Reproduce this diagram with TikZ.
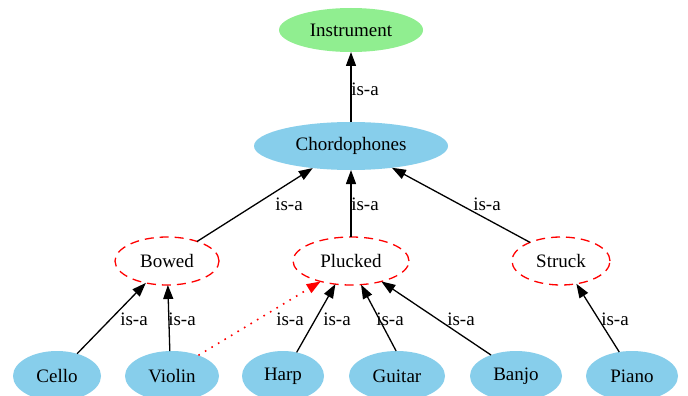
\documentclass[tikz,border=0pt]{standalone}
\usepackage{fontspec}
\setmainfont{Liberation Serif}
\usetikzlibrary{shapes.geometric,arrows.meta}
\definecolor{skyb}{HTML}{87CEEB}
\definecolor{lgreen}{HTML}{90EE90}
\begin{document}
\begin{tikzpicture}[x=1pt,y=-1pt,
  base/.style={ellipse, inner sep=0pt, outer sep=0pt, font=\fontsize{19}{22}\selectfont},
  filled/.style={base, fill=skyb},
  cls/.style={base, draw=red, dash pattern=on 9pt off 6pt, line width=1.3pt},
  isa/.style={-{Triangle[length=14pt,width=10pt]}, line width=1.3pt},
  soft/.style={-{Triangle[length=14pt,width=10pt]}, line width=1.6pt, red, dash pattern=on 1.6pt off 6pt},
  lbl/.style={font=\fontsize{19}{22}\selectfont, inner sep=0pt}
]
\useasboundingbox (0,0) rectangle (688,396);
\fill[white] (0,0) rectangle (688,396);
% nodes
\node[base, fill=lgreen, minimum width=144pt, minimum height=44pt] (inst) at (351,30) {Instrument};
\node[filled, minimum width=194pt, minimum height=48pt] (chord) at (351,146) {Chordophones};
\node[cls, minimum width=104pt, minimum height=48pt] (bowed) at (167,261) {Bowed};
\node[cls, minimum width=116pt, minimum height=48pt] (plucked) at (351,261) {Plucked};
\node[cls, minimum width=98pt, minimum height=48pt] (struck) at (561,261) {Struck};
\node[filled, minimum width=88pt, minimum height=50pt] (cello) at (57,376) {Cello};
\node[filled, minimum width=94pt, minimum height=50pt] (violin) at (172,376) {Violin};
\node[filled, minimum width=82pt, minimum height=50pt] (harp) at (283,376) {Harp};
\node[filled, minimum width=96pt, minimum height=50pt] (guitar) at (397,376) {Guitar};
\node[filled, minimum width=92pt, minimum height=50pt] (banjo) at (516,376) {Banjo};
\node[filled, minimum width=92pt, minimum height=50pt] (piano) at (632,376) {Piano};
% edges
\draw[isa] (chord) -- (inst);
\draw[isa] (bowed.33) -- (chord.-150);
\draw[isa] (plucked) -- (chord);
\draw[isa] (struck.149) -- (chord.-28);
\draw[isa] (cello.48) -- (bowed.-134);
\draw[isa] (violin.95) -- (bowed.-88);
\draw[soft] (violin.38) -- (plucked.-146);
\draw[isa] (harp.60) -- (plucked.-124);
\draw[isa] (guitar.92) -- (plucked.-67);
\draw[isa] (banjo.140) -- (plucked.-34);
\draw[isa] (piano.118) -- (struck.-56);
% labels
\node[lbl] (l1) at (365,89) {is-a};
\node[lbl] (l2) at (289,204) {is-a};
\node[lbl] (l3) at (365,204) {is-a};
\node[lbl] (l4) at (487,204) {is-a};
\node[lbl] (l5) at (134,319) {is-a};
\node[lbl] (l6) at (182,319) {is-a};
\node[lbl] (l7) at (290,319) {is-a};
\node[lbl] (l8) at (337,319) {is-a};
\node[lbl] (l9) at (390,319) {is-a};
\node[lbl] (l10) at (461,319) {is-a};
\node[lbl] (l11) at (615,319) {is-a};
\end{tikzpicture}
\end{document}
